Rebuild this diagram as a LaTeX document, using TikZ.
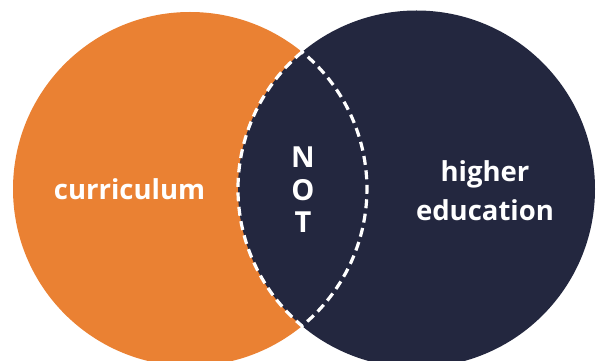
\documentclass[tikz,border=0pt]{standalone}
\usepackage{fontspec}
\setmainfont{Open Sans}
\usepackage{tikz}
\usetikzlibrary{positioning}
\definecolor{vennorange}{HTML}{EA8133}
\definecolor{vennnavy}{HTML}{23273F}
\tikzstyle{lensline} = [draw=white, line width=3.2pt, dash pattern=on 9pt off 5.5pt]
\tikzstyle{vennlabel} = [text=white, font=\bfseries\fontsize{27.5}{39}\selectfont, align=center, inner sep=0pt]
\tikzstyle{notlabel} = [text=white, font=\bfseries\fontsize{29}{32.5}\selectfont, align=center, inner sep=0pt]

\begin{document}
\begin{tikzpicture}[x=1pt, y=1pt]
        \useasboundingbox (0,0) rectangle (600,361);
        \clip (0,0) rectangle (600,361);
        	\coordinate (curr) at (190,172);
        	\coordinate (high) at (416.5,172);
        	\coordinate (top) at (302,309);
        	\coordinate (bottom) at (302,35);
			\fill [vennorange] (curr) circle [radius=177];
			\fill [vennnavy] (high) circle [radius=178.5];
			\draw [lensline] (top) arc [start angle=129.89, end angle=230.11, radius=178.5]
			      arc [start angle=-50.73, end angle=50.73, radius=177] -- cycle;
			\node (curriculum) [vennlabel] at (129.5,172) {curriculum};
			\node (education) [vennlabel] at (485,170) {higher\\education};
			\node (not) [notlabel] at (303,171) {N\\O\\T};
			% 
\end{tikzpicture}
\end{document}
